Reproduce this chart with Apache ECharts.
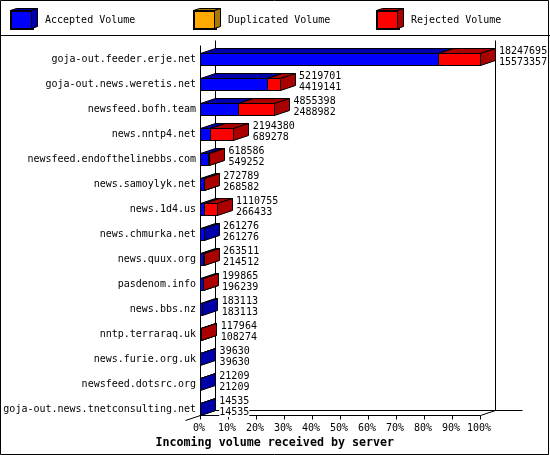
<!DOCTYPE html>
<html><head><meta charset="utf-8">
<style>html,body{margin:0;padding:0;background:#fff}#c{width:550px;height:455px}</style>
<script src="https://cdn.jsdelivr.net/npm/echarts@6/dist/echarts.min.js"></script>
</head><body><div id="c"></div>
<script>
const categories = ["goja-out.feeder.erje.net","goja-out.news.weretis.net","newsfeed.bofh.team","news.nntp4.net","newsfeed.endofthelinebbs.com","news.samoylyk.net","news.1d4.us","news.chmurka.net","news.quux.org","pasdenom.info","news.bbs.nz","nntp.terraraq.uk","news.furie.org.uk","newsfeed.dotsrc.org","goja-out.news.tnetconsulting.net"];
const totalVolume = [18247695,5219701,4855398,2194380,618586,272789,1110755,261276,263511,199865,183113,117964,39630,21209,14535];
const acceptedVolume = [15573357,4419141,2488982,689278,549252,268582,266433,261276,214512,196239,183113,108274,39630,21209,14535];
const seriesNames = ["Accepted Volume","Duplicated Volume","Rejected Volume"];
const FONT = '"DejaVu Sans Mono"';
const maxVolume = Math.max(...totalVolume);
const DX = 15, DY = 5, BAR_H = 12;
const px = v => Math.round(v - 0.5) + 0.5;

function faces(x0, x1, yc, front, dark) {
  const t = px(yc - BAR_H / 2), b = t + BAR_H;
  const st = {stroke:'#000', lineWidth:1};
  const poly = (pts, fill) => ({type:'polygon', shape:{points:pts}, style:Object.assign({fill}, st)});
  return [
    poly([[x0,t],[x0+DX,t-DY],[x1+DX,t-DY],[x1,t]], dark),
    poly([[x1,t],[x1+DX,t-DY],[x1+DX,b-DY],[x1,b]], dark),
    poly([[x0,t],[x1,t],[x1,b],[x0,b]], front)
  ];
}
function barSeries(name, front, dark, rows) {
  return {
    type:'custom', name, z:3, silent:true, animation:false, clip:false,
    itemStyle:{color:front, borderColor:'#000', borderWidth:1},
    encode:{x:[0,1], y:2}, data:rows,
    renderItem(p, api) {
      const a = api.coord([api.value(0), api.value(2)]);
      const b = api.coord([api.value(1), api.value(2)]);
      return {type:'group', children:faces(px(a[0]), px(b[0]), a[1], front, dark)};
    }
  };
}
const acceptedRows = categories.map((c,i)=>[0, acceptedVolume[i], i]);
const rejectedRows = categories.map((c,i)=>[acceptedVolume[i], totalVolume[i], i]).filter(r=>r[1]>r[0]);

const frameSeries = {
  type:'custom', name:'frame', z:1, silent:true, animation:false, clip:false,
  data:[[0]], encode:{x:0},
  renderItem(p, api) {
    const x0 = px(api.coord([0,0])[0]), x1 = px(api.coord([maxVolume,0])[0]);
    const yb = px(api.coord([0,categories.length-1])[1] + 6.5);
    const yt = yb - 370;
    const l = (a,b,c,d)=>({type:'line', shape:{x1:a,y1:b,x2:c,y2:d}, style:{stroke:'#000',lineWidth:1}});
    return {type:'group', children:[
      l(x0,yt,x0,yb),
      l(x0+DX,yt-DY,x0+DX,yb-DY),
      l(x1+DX,yt-DY,x1+DX,yb-DY),
      l(x0+DX,yb-DY,x1+42,yb-DY),
      l(x0-DX,yb+DY,x0+DX,yb-DY),
      l(x1,yb,x1+DX,yb-DY)
    ]};
  }
};
const labelSeries = {
  type:'custom', name:'labels', z:5, silent:true, animation:false, clip:false,
  data:categories.map((c,i)=>[totalVolume[i], i]), encode:{x:0, y:1},
  renderItem(p, api) {
    const i = api.value(1), c = api.coord([api.value(0), i]);
    const mk = (t,dy)=>({type:'text', style:{text:String(t), x:c[0]+DX+4, y:c[1]+dy,
      verticalAlign:'middle', align:'left', fill:'#000', font:'10px '+FONT, backgroundColor:'#fff'}});
    return {type:'group', children:[mk(totalVolume[i],-8), mk(acceptedVolume[i],3)]};
  }
};
const legendAt = (name,left)=>({data:[name], left, top:10, icon:'rect', itemWidth:22, itemHeight:18,
  padding:0, selectedMode:false, inactiveColor:'#000',
  textStyle:{fontFamily:FONT, fontSize:10, color:'#000', padding:[0,0,0,7]}});
const sideFace = (x,fill,dark)=>({type:'polygon', z:10,
  shape:{points:[[x,10.5],[x+6,8.5],[x+6,26.5],[x,28.5]]}, style:{fill:dark,stroke:'#000',lineWidth:1}});
const topFace = (x,dark)=>({type:'polygon', z:10,
  shape:{points:[[x-21,10.5],[x-15,8.5],[x+6,8.5],[x,10.5]]}, style:{fill:dark,stroke:'#000',lineWidth:1}});

const chart = echarts.init(document.getElementById('c'), null, {renderer:'canvas'});
chart.setOption({
  animation:false, backgroundColor:'#fff',
  title:{text:'Incoming volume received by server', left:155.5, top:437, padding:0,
    textStyle:{fontFamily:FONT, fontSize:11.67, fontWeight:'bold', color:'#000'}},
  legend:[legendAt(seriesNames[0],10), legendAt(seriesNames[1],193), legendAt(seriesNames[2],376)],
  grid:{left:200, width:280, top:46.5, height:375, containLabel:false},
  xAxis:{type:'value', min:0, max:maxVolume, interval:maxVolume/10, offset:-6,
    axisLine:{show:true, onZero:false, lineStyle:{color:'#000', width:1}},
    axisTick:{show:true, length:4, lineStyle:{color:'#000', width:1}},
    splitLine:{show:false},
    axisLabel:{fontFamily:FONT, fontSize:10, color:'#000', margin:8, padding:[0,2,0,0], showMinLabel:true, showMaxLabel:true,
      formatter:v=>Math.round(v/maxVolume*100)+'%'}},
  yAxis:{type:'category', inverse:true, data:categories,
    axisLine:{show:false}, axisTick:{show:false}, splitLine:{show:false},
    axisLabel:{fontFamily:FONT, fontSize:10, color:'#000', margin:4, interval:0, padding:[2,0,0,0]}},
  series:[frameSeries,
    barSeries(seriesNames[0],'#0000ff','#0000aa',acceptedRows),
    barSeries(seriesNames[1],'#ffaa00','#aa7700',[]),
    barSeries(seriesNames[2],'#ff0000','#aa0000',rejectedRows),
    labelSeries],
  graphic:[
    {type:'rect', z:0, shape:{x:0.5,y:0.5,width:548,height:454}, style:{fill:null,stroke:'#000',lineWidth:1}},
    {type:'line', z:0, shape:{x1:0,y1:35.5,x2:550,y2:35.5}, style:{stroke:'#000',lineWidth:1}},
    topFace(31.5,'#0000aa'), sideFace(31.5,'#0000ff','#0000aa'),
    topFace(214.5,'#aa7700'), sideFace(214.5,'#ffaa00','#aa7700'),
    topFace(397.5,'#aa0000'), sideFace(397.5,'#ff0000','#aa0000')
  ]
});
</script></body></html>
